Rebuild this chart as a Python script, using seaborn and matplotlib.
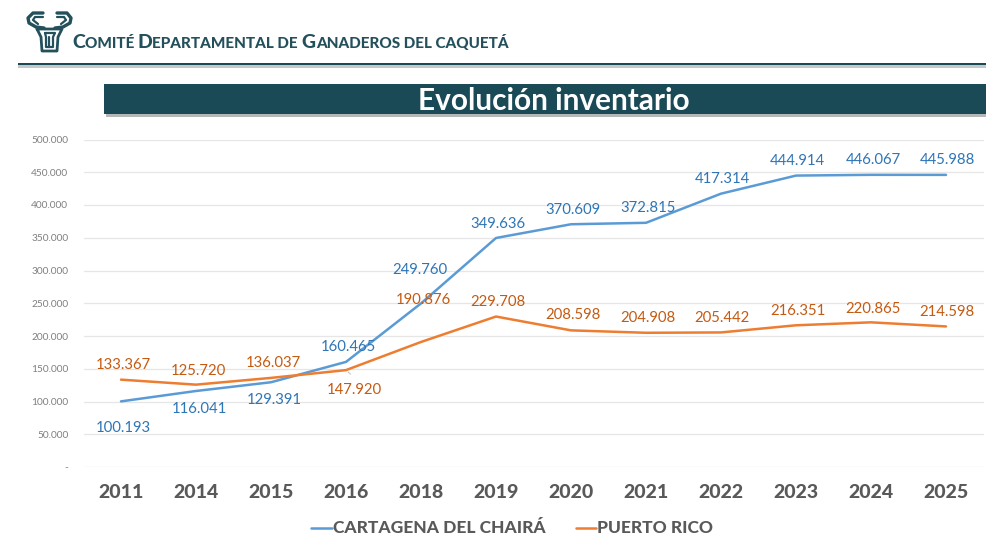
import matplotlib
matplotlib.use('Agg')
import matplotlib.pyplot as plt
from matplotlib.patches import Rectangle
import pandas as pd
import seaborn as sns

# datos del inventario
years = ['2011', '2014', '2015', '2016', '2018', '2019', '2020', '2021', '2022', '2023', '2024', '2025']
cartagena = [100193, 116041, 129391, 160465, 249760, 349636, 370609, 372815, 417314, 444914, 446067, 445988]
puerto_rico = [133367, 125720, 136037, 147920, 190876, 229708, 208598, 204908, 205442, 216351, 220865, 214598]
y_ticks = [0, 50000, 100000, 150000, 200000, 250000, 300000, 350000, 400000, 450000, 500000]

BLUE = '#5b9bd5'
ORANGE = '#ed7d31'
BLUE_TXT = '#2e75b6'
ORANGE_TXT = '#c55a11'
TEAL = '#1b4a57'
GREY = '#595959'
W, H = 986, 537

sns.set_theme(style='white')
plt.rcParams['font.family'] = ['Lato', 'DejaVu Sans']

df = pd.DataFrame({'anio': years * 2,
                   'valor': cartagena + puerto_rico,
                   'zona': ['CARTAGENA DEL CHAIRÁ'] * 12 + ['PUERTO RICO'] * 12})

fig = plt.figure(figsize=(W / 100, H / 100), dpi=100)
# capa de fondo en pixeles para el encabezado
bg = fig.add_axes([0, 0, 1, 1])
bg.set_xlim(0, W)
bg.set_ylim(H, 0)
bg.axis('off')

ax = fig.add_axes([83.5 / W, (H - 467) / H, 900 / W, 327.5 / H])
sns.lineplot(data=df, x='anio', y='valor', hue='zona', palette=[BLUE, ORANGE],
             linewidth=1.8, sort=False, ax=ax, legend=False)
ax.set_xlim(-0.5, 11.5)
ax.set_ylim(0, 500000)
ax.set_xlabel('')
ax.set_ylabel('')
ax.set_yticks(y_ticks)
ax.set_yticklabels(['-'] + [f'{v:,}'.replace(',', '.') for v in y_ticks[1:]], fontsize=7.3, color='#7f7f7f')
ax.tick_params(axis='y', length=0, pad=11)
ax.tick_params(axis='x', length=0, pad=12)
plt.setp(ax.get_xticklabels(), fontsize=14, fontweight='black', color=GREY)
ax.grid(axis='y', color='#e6e6e6', linewidth=0.9)
ax.set_axisbelow(True)
sns.despine(ax=ax, left=True, bottom=True, top=True, right=True)

# etiquetas, desplazamiento en pixeles respecto al punto
off_c = [(2, -27), (3, -18), (3, -18), (2, 15), (-1, 33), (2, 14), (2, 14), (2, 15), (1, 15), (1, 15), (2, 15), (1, 15)]
off_p = [(2, 15), (2, 14), (2, 15), (8, -20), (2, 42), (2, 15), (2, 15), (2, 15), (1, 14), (2, 14), (2, 13), (1, 14)]
for vals, offs, col in [(cartagena, off_c, BLUE_TXT), (puerto_rico, off_p, ORANGE_TXT)]:
    for i, (v, o) in enumerate(zip(vals, offs)):
        ax.annotate(f'{v:,}'.replace(',', '.'), (i, v), xytext=(o[0] * 0.72, o[1] * 0.72),
                    textcoords='offset points', ha='center', va='center', fontsize=10.7, color=col)
# linea guia de 147.920
ax.annotate('', (3, puerto_rico[3]), xytext=(3.09, puerto_rico[3] - 9000),
            arrowprops=dict(arrowstyle='-', color='#bfbfbf', lw=0.7))

# leyenda
bg.plot([311, 332], [528, 528], color=BLUE, lw=1.8)
bg.text(333, 528, 'CARTAGENA DEL CHAIRÁ', fontsize=12.5, fontweight='black', color=GREY, va='center')
bg.plot([576, 596], [528, 528], color=ORANGE, lw=1.8)
bg.text(597, 528, 'PUERTO RICO', fontsize=12.5, fontweight='black', color=GREY, va='center')

# encabezado
bg.add_patch(Rectangle((18, 65), W - 18, 3, color='#c4c8c9', lw=0))
bg.add_patch(Rectangle((18, 62.5), W - 18, 2.8, color=TEAL, lw=0))
bg.add_patch(Rectangle((106, 114), W - 106, 2.5, color='#b5b8b9', lw=0))
bg.add_patch(Rectangle((104, 84), W - 104, 30, color=TEAL, lw=0))
bg.text(554, 101.5, 'Evolución inventario', fontsize=21.4, fontweight='bold', color='white', ha='center', va='center')

# titulo en versalitas, pedazo por pedazo
runs = [('C', 14), ('OMITÉ ', 11), ('D', 14), ('EPARTAMENTAL DE ', 11), ('G', 14), ('ANADEROS DEL CAQUETÁ', 11)]
x = 72
fig.canvas.draw()
rend = fig.canvas.get_renderer()
for s, fs in runs:
    t = bg.text(x, 48, s.replace(' ', '\u00a0'), fontsize=fs, fontweight='black', color='#24505c', va='baseline')
    x = t.get_window_extent(rend).x1

# logo aproximado con trazos
horn_l = [(43, 13), (33, 13), (28, 18), (29, 23), (36, 27), (44, 28)]
horn_l2 = [(43, 17), (35, 17), (33, 20), (38, 24)]
horn_r = [(57, 13), (67, 13), (71, 18), (70, 23), (63, 27), (55, 28)]
horn_r2 = [(57, 17), (64, 17), (66, 20), (61, 24)]
head = [(37, 29), (62, 29), (58, 37), (57, 51), (42, 51), (41, 37), (37, 29)]
snout = [(45, 33), (55, 33), (53, 37), (53, 47), (46, 47), (46, 37), (45, 33)]
inner = [(49, 37), (49, 47)]
for pts, lw in [(horn_l, 2.4), (horn_l2, 1.6), (horn_r, 2.4), (horn_r2, 1.6), (head, 2.0), (snout, 1.6), (inner, 1.6)]:
    bg.plot([p[0] for p in pts], [p[1] for p in pts], color='#24505c', lw=lw)

fig.savefig('out.png', dpi=100)
